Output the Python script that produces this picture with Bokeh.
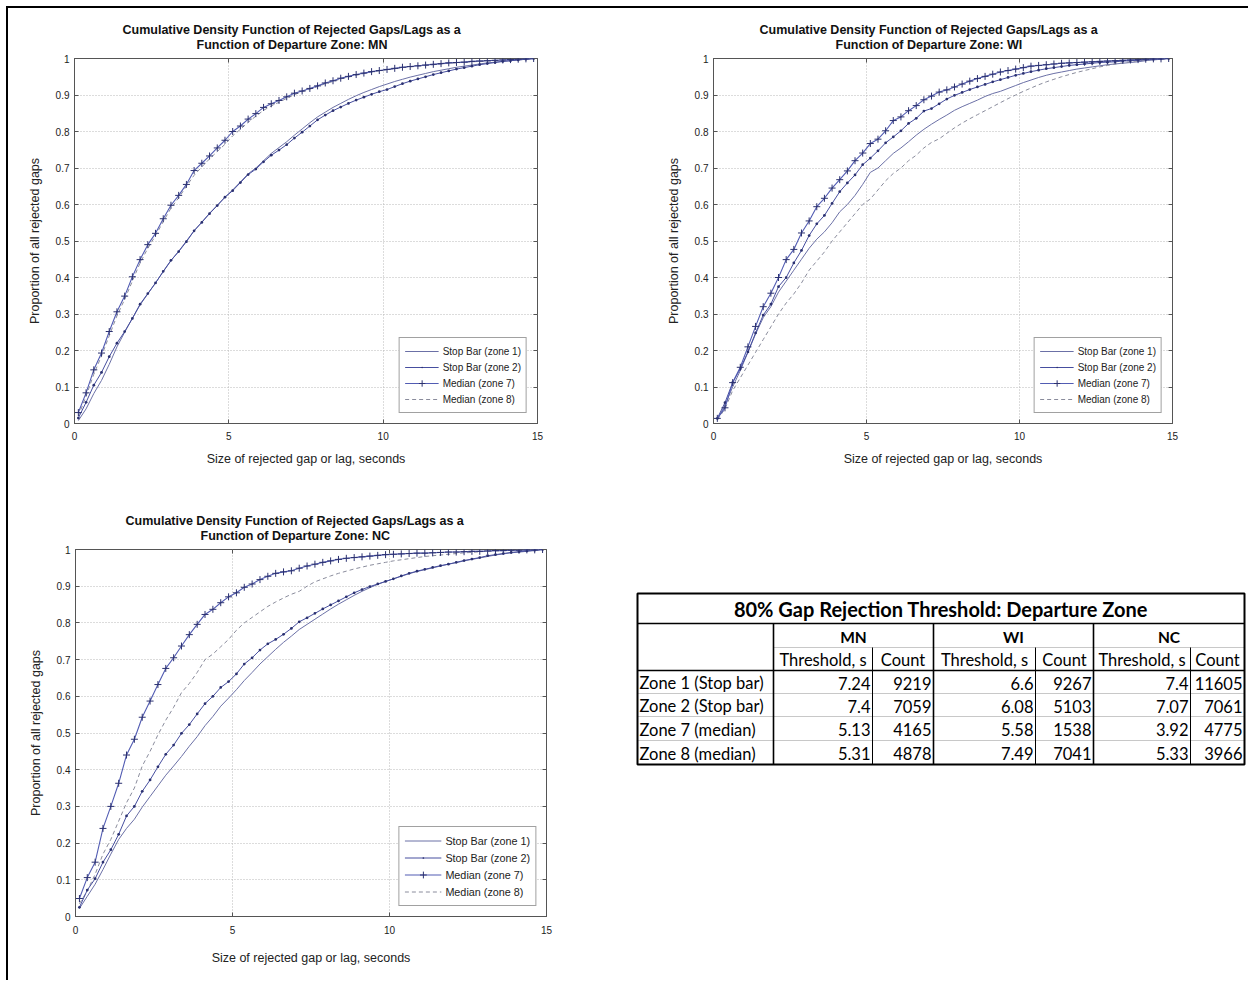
from bokeh.plotting import figure
from bokeh.models import (Range1d, FixedTicker, CustomJSTickFormatter, Legend,
                          LegendItem, ColumnDataSource, LinearAxis, Title, Spacer)
from bokeh.layouts import row, column
from bokeh.embed import file_html
from bokeh.resources import INLINE
from bokeh.core.properties import value

# ---------------- data ----------------
gap_s = [0.125, 0.375, 0.625, 0.875, 1.125, 1.375, 1.625, 1.875, 2.125, 2.375,
         2.625, 2.875, 3.125, 3.375, 3.625, 3.875, 4.125, 4.375, 4.625, 4.875,
         5.125, 5.375, 5.625, 5.875, 6.125, 6.375, 6.625, 6.875, 7.125, 7.375,
         7.625, 7.875, 8.125, 8.375, 8.625, 8.875, 9.125, 9.375, 9.625, 9.875,
         10.125, 10.375, 10.625, 10.875, 11.125, 11.375, 11.625, 11.875, 12.125, 12.375,
         12.625, 12.875, 13.125, 13.375, 13.625, 13.875, 14.125, 14.375, 14.625, 14.875]

mn_zone1 = [0.008, 0.040, 0.082, 0.118, 0.162, 0.210, 0.250, 0.288, 0.325, 0.355,
            0.385, 0.416, 0.446, 0.472, 0.500, 0.528, 0.552, 0.576, 0.598, 0.620,
            0.640, 0.662, 0.684, 0.700, 0.720, 0.740, 0.756, 0.772, 0.790, 0.807,
            0.824, 0.840, 0.853, 0.866, 0.877, 0.888, 0.898, 0.907, 0.915, 0.923,
            0.930, 0.937, 0.943, 0.949, 0.954, 0.959, 0.964, 0.968, 0.972, 0.976,
            0.979, 0.982, 0.985, 0.988, 0.990, 0.992, 0.994, 0.996, 0.998, 1.000]
mn_zone2 = [0.015, 0.058, 0.105, 0.140, 0.183, 0.220, 0.252, 0.288, 0.327, 0.356,
            0.385, 0.417, 0.447, 0.471, 0.498, 0.528, 0.551, 0.575, 0.597, 0.620,
            0.638, 0.660, 0.682, 0.697, 0.717, 0.735, 0.749, 0.764, 0.782, 0.798,
            0.815, 0.832, 0.845, 0.857, 0.867, 0.877, 0.886, 0.894, 0.902, 0.909,
            0.915, 0.923, 0.931, 0.938, 0.944, 0.950, 0.956, 0.961, 0.966, 0.971,
            0.975, 0.979, 0.983, 0.986, 0.989, 0.992, 0.994, 0.996, 0.998, 1.000]
mn_zone7 = [0.030, 0.084, 0.147, 0.193, 0.252, 0.306, 0.349, 0.402, 0.449, 0.490,
            0.521, 0.561, 0.598, 0.625, 0.655, 0.693, 0.713, 0.733, 0.755, 0.776,
            0.800, 0.815, 0.834, 0.849, 0.866, 0.876, 0.885, 0.895, 0.905, 0.911,
            0.918, 0.925, 0.933, 0.939, 0.946, 0.951, 0.956, 0.960, 0.964, 0.967,
            0.970, 0.973, 0.976, 0.978, 0.980, 0.982, 0.984, 0.986, 0.988, 0.989,
            0.990, 0.992, 0.993, 0.994, 0.995, 0.996, 0.997, 0.998, 0.999, 1.000]
mn_zone8 = [0.020, 0.075, 0.135, 0.185, 0.240, 0.295, 0.340, 0.390, 0.440, 0.480,
            0.515, 0.553, 0.590, 0.618, 0.650, 0.680, 0.703, 0.725, 0.745, 0.765,
            0.788, 0.806, 0.825, 0.842, 0.858, 0.870, 0.880, 0.891, 0.901, 0.909,
            0.916, 0.923, 0.931, 0.937, 0.944, 0.949, 0.954, 0.959, 0.963, 0.966,
            0.969, 0.972, 0.975, 0.977, 0.979, 0.981, 0.983, 0.985, 0.987, 0.988,
            0.990, 0.991, 0.992, 0.993, 0.994, 0.995, 0.996, 0.997, 0.998, 1.000]

wi_zone1 = [0.010, 0.050, 0.100, 0.145, 0.195, 0.245, 0.290, 0.320, 0.360, 0.390,
            0.420, 0.450, 0.480, 0.505, 0.525, 0.550, 0.580, 0.600, 0.625, 0.655,
            0.688, 0.700, 0.720, 0.740, 0.755, 0.772, 0.790, 0.806, 0.820, 0.833,
            0.845, 0.858, 0.868, 0.877, 0.886, 0.896, 0.904, 0.910, 0.918, 0.926,
            0.934, 0.941, 0.948, 0.954, 0.959, 0.963, 0.967, 0.971, 0.974, 0.977,
            0.980, 0.983, 0.985, 0.987, 0.989, 0.991, 0.994, 0.996, 0.998, 1.000]
wi_zone2 = [0.014, 0.057, 0.112, 0.150, 0.196, 0.248, 0.297, 0.327, 0.375, 0.400,
            0.440, 0.474, 0.515, 0.547, 0.570, 0.603, 0.635, 0.659, 0.681, 0.709,
            0.727, 0.747, 0.769, 0.785, 0.802, 0.822, 0.836, 0.856, 0.863, 0.876,
            0.889, 0.899, 0.907, 0.915, 0.922, 0.929, 0.936, 0.942, 0.948, 0.954,
            0.959, 0.964, 0.968, 0.972, 0.975, 0.978, 0.981, 0.983, 0.985, 0.987,
            0.989, 0.990, 0.991, 0.993, 0.994, 0.995, 0.997, 0.998, 0.999, 1.000]
wi_zone7 = [0.014, 0.043, 0.112, 0.154, 0.210, 0.266, 0.320, 0.357, 0.400, 0.449,
            0.477, 0.522, 0.555, 0.594, 0.617, 0.645, 0.668, 0.692, 0.720, 0.741,
            0.767, 0.779, 0.802, 0.830, 0.840, 0.857, 0.871, 0.887, 0.897, 0.908,
            0.914, 0.922, 0.930, 0.938, 0.945, 0.951, 0.957, 0.963, 0.967, 0.971,
            0.975, 0.979, 0.981, 0.983, 0.985, 0.987, 0.988, 0.989, 0.990, 0.991,
            0.992, 0.993, 0.994, 0.995, 0.996, 0.997, 0.998, 0.999, 0.999, 1.000]
wi_zone8 = [0.010, 0.040, 0.090, 0.125, 0.160, 0.195, 0.230, 0.265, 0.300, 0.330,
            0.355, 0.385, 0.420, 0.445, 0.470, 0.500, 0.525, 0.550, 0.575, 0.600,
            0.615, 0.640, 0.665, 0.685, 0.700, 0.720, 0.735, 0.755, 0.770, 0.780,
            0.795, 0.810, 0.823, 0.835, 0.846, 0.857, 0.868, 0.879, 0.890, 0.900,
            0.910, 0.919, 0.928, 0.936, 0.943, 0.950, 0.956, 0.962, 0.967, 0.972,
            0.977, 0.981, 0.985, 0.988, 0.991, 0.994, 0.996, 0.998, 0.999, 1.000]

nc_zone1 = [0.022, 0.055, 0.088, 0.128, 0.170, 0.210, 0.240, 0.265, 0.298, 0.327,
            0.356, 0.385, 0.410, 0.436, 0.464, 0.490, 0.520, 0.545, 0.573, 0.595,
            0.618, 0.643, 0.665, 0.688, 0.708, 0.728, 0.747, 0.764, 0.782, 0.796,
            0.810, 0.824, 0.838, 0.851, 0.863, 0.875, 0.886, 0.896, 0.905, 0.913,
            0.920, 0.927, 0.934, 0.940, 0.945, 0.950, 0.955, 0.960, 0.964, 0.969,
            0.973, 0.977, 0.981, 0.985, 0.988, 0.991, 0.993, 0.995, 0.997, 1.000]
nc_zone2 = [0.025, 0.072, 0.103, 0.148, 0.182, 0.224, 0.274, 0.300, 0.341, 0.372,
            0.408, 0.442, 0.467, 0.499, 0.523, 0.552, 0.580, 0.600, 0.624, 0.640,
            0.661, 0.688, 0.705, 0.726, 0.743, 0.755, 0.769, 0.785, 0.803, 0.814,
            0.826, 0.838, 0.849, 0.860, 0.871, 0.882, 0.891, 0.899, 0.906, 0.913,
            0.920, 0.928, 0.935, 0.941, 0.946, 0.951, 0.956, 0.960, 0.965, 0.970,
            0.974, 0.978, 0.983, 0.986, 0.989, 0.992, 0.994, 0.996, 0.998, 1.000]
nc_zone7 = [0.049, 0.106, 0.148, 0.240, 0.300, 0.363, 0.440, 0.483, 0.543, 0.587,
            0.632, 0.676, 0.705, 0.737, 0.768, 0.796, 0.823, 0.837, 0.855, 0.871,
            0.882, 0.897, 0.906, 0.918, 0.927, 0.935, 0.939, 0.942, 0.949, 0.955,
            0.960, 0.965, 0.969, 0.973, 0.976, 0.978, 0.980, 0.982, 0.984, 0.986,
            0.987, 0.988, 0.989, 0.990, 0.990, 0.991, 0.992, 0.993, 0.993, 0.994,
            0.995, 0.995, 0.996, 0.997, 0.997, 0.998, 0.998, 0.999, 0.999, 1.000]
nc_zone8 = [0.035, 0.070, 0.115, 0.170, 0.210, 0.260, 0.310, 0.350, 0.410, 0.450,
            0.495, 0.535, 0.570, 0.610, 0.635, 0.665, 0.700, 0.715, 0.735, 0.755,
            0.780, 0.800, 0.815, 0.830, 0.845, 0.857, 0.868, 0.878, 0.886, 0.900,
            0.912, 0.920, 0.928, 0.935, 0.941, 0.947, 0.952, 0.957, 0.961, 0.965,
            0.969, 0.972, 0.975, 0.978, 0.981, 0.983, 0.985, 0.987, 0.989, 0.991,
            0.992, 0.994, 0.995, 0.996, 0.997, 0.998, 0.998, 0.999, 0.999, 1.000]

legend_labels = ["Stop Bar (zone 1)", "Stop Bar (zone 2)", "Median (zone 7)", "Median (zone 8)"]
x_ticks = [0, 5, 10, 15]
y_ticks = [0, 0.1, 0.2, 0.3, 0.4, 0.5, 0.6, 0.7, 0.8, 0.9, 1]

# table data
table_title = "80% Gap Rejection Threshold: Departure Zone"
table_states = ["MN", "WI", "NC"]
table_subheads = ["Threshold, s", "Count"]
table_zones = ["Zone 1 (Stop bar)", "Zone 2 (Stop bar)", "Zone 7 (median)", "Zone 8 (median)"]
mn_threshold = [7.24, 7.4, 5.13, 5.31]
mn_count = [9219, 7059, 4165, 4878]
wi_threshold = [6.6, 6.08, 5.58, 7.49]
wi_count = [9267, 5103, 1538, 7041]
nc_threshold = [7.4, 7.07, 3.92, 5.33]
nc_count = [11605, 7061, 4775, 3966]

# ---------------- style ----------------
FONT = "Liberation Sans"
C_Z1 = "#6b70a6"
C_Z2 = "#464e9f"
C_Z7 = "#525cb3"
C_Z8 = "#8a8c9c"
C_MARK = "#2b3170"


def make_plot(state, z1, z2, z7, z8, width, height, bl, br, bt, bb, off1, off2,
              xl_standoff=8, xa_standoff=9, leg_font="10px", leg_row=16, leg_glyph=34):
    p = figure(width=width, height=height, x_range=Range1d(0, 15), y_range=Range1d(0, 1),
               output_backend="svg", toolbar_location=None, title=None,
               min_border_left=bl, min_border_right=br, min_border_top=bt, min_border_bottom=bb)

    p.xaxis.ticker = FixedTicker(ticks=x_ticks)
    p.yaxis.ticker = FixedTicker(ticks=y_ticks)
    p.yaxis.formatter = CustomJSTickFormatter(code="return (Math.round(tick*10)/10).toString();")
    p.xgrid.ticker = FixedTicker(ticks=x_ticks)
    p.ygrid.ticker = FixedTicker(ticks=y_ticks)
    p.grid.grid_line_color = "#b8b8b8"
    p.grid.grid_line_dash = "1 2"
    p.grid.grid_line_width = 1

    for ax in (p.xaxis, p.yaxis):
        ax.axis_line_color = "#555555"
        ax.major_tick_in = 4
        ax.major_tick_out = 0
        ax.major_tick_line_color = "#555555"
        ax.minor_tick_line_color = None
        ax.major_label_text_font = FONT
        ax.major_label_text_font_size = "10px"
        ax.major_label_text_color = "#222222"
        ax.axis_label_text_font = FONT
        ax.axis_label_text_font_size = "12.5px"
        ax.axis_label_text_font_style = "normal"
        ax.axis_label_text_color = "#222222"
    p.xaxis.axis_label = "Size of rejected gap or lag, seconds"
    p.yaxis.axis_label = "Proportion of all rejected gaps"
    p.xaxis.major_label_standoff = xl_standoff
    p.yaxis.major_label_standoff = 5
    p.xaxis.axis_label_standoff = xa_standoff
    p.yaxis.axis_label_standoff = 11
    p.outline_line_color = "#555555"
    p.outline_line_width = 1

    # inward ticks on the top and right sides of the box
    for side, tk in (("above", x_ticks), ("right", y_ticks)):
        ax = LinearAxis(ticker=FixedTicker(ticks=tk), major_label_text_alpha=0,
                        major_label_text_font_size="1px", major_label_standoff=0,
                        major_tick_in=4, major_tick_out=0, minor_tick_line_color=None,
                        axis_line_color=None, major_tick_line_color="#555555")
        p.add_layout(ax, side)

    # two-line title (second line closest to the frame)
    t2 = Title(text="Function of Departure Zone: " + state, align="left", offset=off2,
               text_font=FONT, text_font_size="12.5px", text_font_style="bold",
               text_color="#111111", standoff=14)
    t1 = Title(text="Cumulative Density Function of Rejected Gaps/Lags as a", align="left",
               offset=off1, text_font=FONT, text_font_size="12.5px", text_font_style="bold",
               text_color="#111111", standoff=-16)
    p.add_layout(t2, "above")
    p.add_layout(t1, "above")

    src = ColumnDataSource(dict(x=gap_s, z1=z1, z2=z2, z7=z7, z8=z8))
    r1 = p.line("x", "z1", source=src, line_color=C_Z1, line_width=1)
    r8 = p.line("x", "z8", source=src, line_color=C_Z8, line_width=1, line_dash="4 3")
    r2 = p.line("x", "z2", source=src, line_color=C_Z2, line_width=1)
    r2m = p.scatter("x", "z2", source=src, marker="dot", size=11,
                    fill_color=C_MARK, line_color=C_MARK)
    r7 = p.line("x", "z7", source=src, line_color=C_Z7, line_width=1.1)
    r7m = p.scatter("x", "z7", source=src, marker="cross", size=7,
                    line_color=C_MARK, line_width=1)

    legend = Legend(items=[
        LegendItem(label=legend_labels[0], renderers=[r1]),
        LegendItem(label=legend_labels[1], renderers=[r2, r2m]),
        LegendItem(label=legend_labels[2], renderers=[r7, r7m]),
        LegendItem(label=legend_labels[3], renderers=[r8]),
    ], location="bottom_right")
    legend.margin = 10
    legend.padding = 5
    legend.spacing = 0
    legend.glyph_width = leg_glyph
    legend.glyph_height = leg_row
    legend.label_height = leg_row
    legend.label_standoff = 4
    legend.label_text_font = FONT
    legend.label_text_font_size = leg_font
    legend.label_text_color = "#222222"
    legend.border_line_color = "#444444"
    legend.border_line_width = 1
    legend.background_fill_color = "white"
    legend.background_fill_alpha = 1
    p.add_layout(legend)
    return p


# content origin is at page (8, 8), inside the black page frame lines
p1 = make_plot("MN", mn_zone1, mn_zone2, mn_zone7, mn_zone8, 612, 467, 66, 83, 50, 52, 48, 122)
p2 = make_plot("WI", wi_zone1, wi_zone2, wi_zone7, wi_zone8, 628, 467, 93, 76, 50, 52, 46, 122)
p3 = make_plot("NC", nc_zone1, nc_zone2, nc_zone7, nc_zone8, 612, 505, 67, 74, 74, 64, 50, 125,
               xl_standoff=9, xa_standoff=14, leg_font="10.8px", leg_row=17, leg_glyph=37)

# ---------------- table ----------------
# this figure's frame is aligned to p3's frame (page y 549..916), x spans page 620..1248
pt = figure(width=628, height=505, x_range=Range1d(620, 1248), y_range=Range1d(916, 549),
            output_backend="svg", toolbar_location=None, min_border=0, title=None)
pt.axis.visible = False
pt.grid.visible = False
pt.outline_line_color = None

TF = "Lato"
col_edges = [637, 773, 872, 933, 1035, 1093, 1190, 1244]
row_edges = [593, 623, 647, 670, 693, 716, 740, 764]

pt.segment(x0=[col_edges[0]] * 3 + [col_edges[1]], x1=[col_edges[-1]] * 4,
           y0=row_edges[4:7] + [row_edges[2]], y1=row_edges[4:7] + [row_edges[2]],
           line_color="#c8c8c8", line_width=1)
pt.segment(x0=[col_edges[0], col_edges[0]], x1=[col_edges[-1], col_edges[-1]],
           y0=[row_edges[1], row_edges[3]], y1=[row_edges[1], row_edges[3]],
           line_color="black", line_width=1.6)
pt.segment(x0=[col_edges[1], col_edges[3], col_edges[5]], x1=[col_edges[1], col_edges[3], col_edges[5]],
           y0=[row_edges[1]] * 3, y1=[row_edges[-1]] * 3, line_color="black", line_width=1.6)
pt.segment(x0=[col_edges[2], col_edges[4], col_edges[6]], x1=[col_edges[2], col_edges[4], col_edges[6]],
           y0=[row_edges[2]] * 3, y1=[row_edges[-1]] * 3, line_color="black", line_width=1)
pt.rect(x=[(col_edges[0] + col_edges[-1]) / 2], y=[(row_edges[0] + row_edges[-1]) / 2],
        width=[col_edges[-1] - col_edges[0]], height=[row_edges[-1] - row_edges[0]],
        fill_color=None, line_color="black", line_width=2)

pt.text(x=[(col_edges[0] + col_edges[-1]) / 2], y=[(row_edges[0] + row_edges[1]) / 2],
        text=[table_title], text_font=value(TF), text_font_size="20px",
        text_font_style="bold", text_align="center", text_baseline="middle", text_color="black")
state_x = [(col_edges[1] + col_edges[3]) / 2, (col_edges[3] + col_edges[5]) / 2,
           (col_edges[5] + col_edges[7]) / 2]
pt.text(x=state_x, y=[(row_edges[1] + row_edges[2]) / 2 + 1] * 3, text=table_states,
        text_font=value(TF), text_font_size="15.5px", text_font_style="bold",
        text_align="center", text_baseline="middle", text_color="black")
sub_x = [(col_edges[i] + col_edges[i + 1]) / 2 for i in range(1, 7)]
pt.text(x=sub_x, y=[(row_edges[2] + row_edges[3]) / 2 + 1] * 6, text=table_subheads * 3,
        text_font=value(TF), text_font_size="16.5px", text_align="center",
        text_baseline="middle", text_color="black")
row_y = [(row_edges[i] + row_edges[i + 1]) / 2 + 1 for i in range(3, 7)]
pt.text(x=[col_edges[0] + 2] * 4, y=row_y, text=table_zones, text_font=value(TF),
        text_font_size="16.5px", text_align="left", text_baseline="middle", text_color="black")
cells = []
for ci, col in enumerate([mn_threshold, mn_count, wi_threshold, wi_count, nc_threshold, nc_count]):
    for ri, v in enumerate(col):
        cells.append((col_edges[ci + 2] - 2, row_y[ri], "%g" % v))
vsrc = ColumnDataSource(dict(x=[c[0] for c in cells], y=[c[1] for c in cells],
                             t=[c[2] for c in cells]))
pt.text(x="x", y="y", text="t", source=vsrc, text_font=value(TF), text_font_size="16.5px",
        text_align="right", text_baseline="middle", text_color="black")

# ---------------- page frame (black left and top edge lines) ----------------
content = column(row(p1, p2), row(p3, pt))
frame_top = Spacer(width=1240, height=2, styles={"background-color": "black"})
frame_left = Spacer(width=2, height=974, styles={"background-color": "black"})
layout = column(Spacer(width=1248, height=6),
                row(Spacer(width=6, height=974), frame_left, column(frame_top, content)))
open("out.html", "w").write(file_html(layout, INLINE))
